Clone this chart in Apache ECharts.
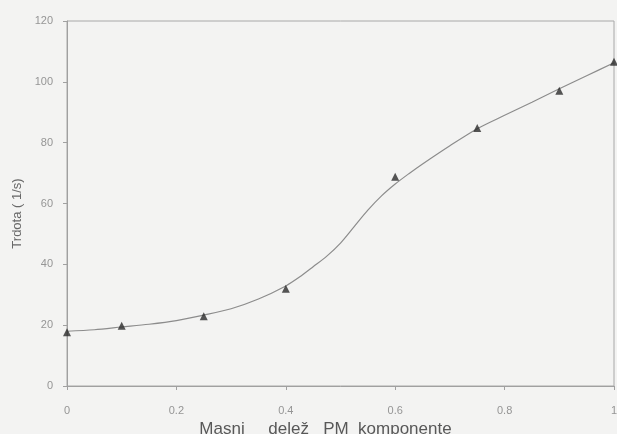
<!DOCTYPE html>
<html>
<head>
<meta charset="utf-8">
<script src="https://cdn.jsdelivr.net/npm/echarts@6/dist/echarts.min.js"></script>
<style>
html,body{margin:0;padding:0;background:#f3f3f2;overflow:hidden;}
#c{width:617px;height:434px;}
</style>
</head>
<body>
<div id="c"></div>
<script>
// Measured points (triangles)
const pointX = [0, 0.1, 0.25, 0.4, 0.6, 0.75, 0.9, 1.0];
const pointY = [17.7, 19.8, 22.9, 32.0, 68.8, 84.8, 97.1, 106.6];
// Fitted curve
const curveX = [0, 0.05, 0.1, 0.15, 0.2, 0.25, 0.3, 0.35, 0.4, 0.425, 0.45, 0.475, 0.5, 0.525, 0.55, 0.575, 0.6, 0.625, 0.65, 0.7, 0.75, 0.8, 0.85, 0.9, 0.95, 1.0];
const curveY = [18.0, 18.5, 19.4, 20.3, 21.5, 23.3, 25.4, 28.6, 32.9, 35.8, 39.2, 42.7, 47.0, 52.4, 57.8, 62.5, 66.4, 69.8, 73.0, 79.0, 84.6, 89.0, 93.3, 97.7, 102.0, 106.3];
const xTicks = [0, 0.2, 0.4, 0.6, 0.8, 1];
const yTicks = [0, 20, 40, 60, 80, 100, 120];

const chart = echarts.init(document.getElementById('c'));
const labelStyle = {color: '#959595', fontSize: 11, fontFamily: 'Liberation Sans, Arial, sans-serif'};
chart.setOption({
  backgroundColor: '#f3f3f2',
  animation: false,
  grid: {left: 67, right: 3, top: 21, bottom: 48, containLabel: false, outerBoundsMode: 'none',
         show: true, borderColor: '#a8a8a8', borderWidth: 1, backgroundColor: 'transparent'},
  xAxis: {
    type: 'value', min: 0, max: 1, interval: 0.2,
    name: 'Masni     delež   PM  komponente',
    nameLocation: 'middle', nameGap: 27,
    nameTextStyle: {color: '#585858', fontSize: 17, fontFamily: 'Liberation Sans, Arial, sans-serif', padding: [0, 30, 0, 0]},
    axisLine: {show: true, lineStyle: {color: '#a0a0a0', width: 1}},
    axisTick: {show: true, length: 4, inside: false, lineStyle: {color: '#a0a0a0'}},
    axisLabel: Object.assign({margin: 19, formatter: v => String(+v.toFixed(1))}, labelStyle),
    splitLine: {show: false}
  },
  yAxis: {
    type: 'value', min: 0, max: 120, interval: 20,
    name: 'Trdota ( 1/s)',
    nameLocation: 'middle', nameGap: 40,
    nameTextStyle: {color: '#686868', fontSize: 13, fontFamily: 'Liberation Sans, Arial, sans-serif', padding: [0, 20, 0, 0]},
    axisLine: {show: true, lineStyle: {color: '#a0a0a0', width: 1}},
    axisTick: {show: true, length: 4, lineStyle: {color: '#a0a0a0'}},
    axisLabel: Object.assign({margin: 14}, labelStyle),
    splitLine: {show: false}
  },
  series: [
    {
      type: 'line',
      data: curveX.map((x, i) => [x, curveY[i]]),
      smooth: 0.3,
      showSymbol: false,
      lineStyle: {color: '#8c8c8c', width: 1.2},
      z: 2
    },
    {
      type: 'scatter',
      data: pointX.map((x, i) => [x, pointY[i]]),
      symbol: 'triangle',
      symbolSize: 8,
      itemStyle: {color: '#2a2a2a'},
      z: 3
    }
  ]
});
</script>
</body>
</html>
